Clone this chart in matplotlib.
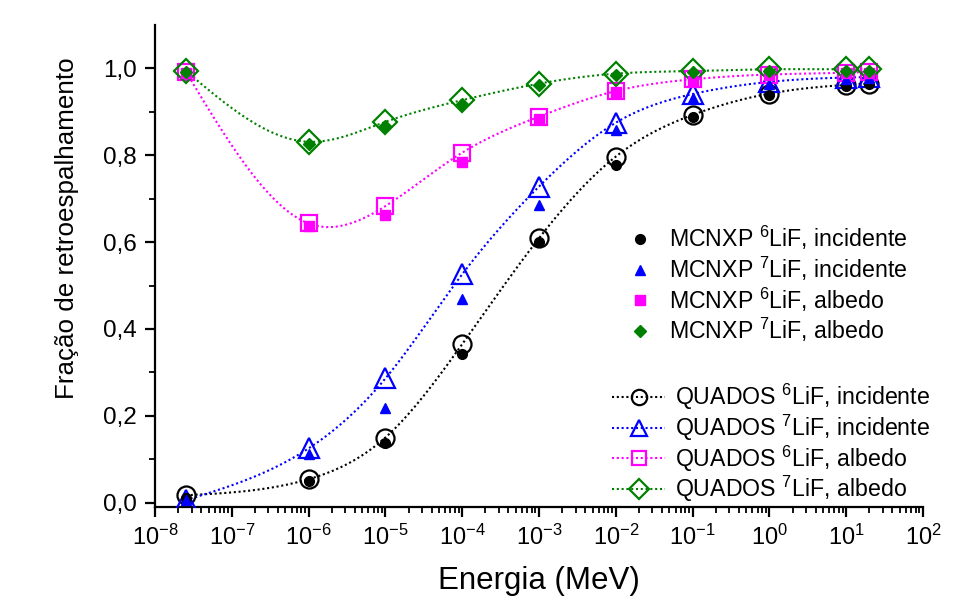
import numpy as np
import matplotlib
matplotlib.use('Agg')
import matplotlib.pyplot as plt
from matplotlib.ticker import FixedLocator, FuncFormatter, LogLocator, NullFormatter

plt.rcParams['font.family'] = ['Liberation Sans', 'DejaVu Sans']
plt.rcParams['mathtext.fontset'] = 'custom'
plt.rcParams['mathtext.rm'] = 'Liberation Sans'
plt.rcParams['mathtext.it'] = 'Liberation Sans'

# energias (MeV)
energia = [2.53e-8, 1e-6, 1e-5, 1e-4, 1e-3, 1e-2, 1e-1, 1, 10, 20]

# QUADOS
q6_inc = [0.017, 0.054, 0.150, 0.365, 0.609, 0.797, 0.893, 0.942, 0.962, 0.965]
q7_inc = [0.006, 0.125, 0.286, 0.526, 0.728, 0.875, 0.941, 0.969, 0.979, 0.980]
q6_alb = [0.992, 0.643, 0.683, 0.806, 0.889, 0.948, 0.975, 0.986, 0.990, 0.992]
q7_alb = [0.994, 0.831, 0.877, 0.927, 0.965, 0.988, 0.994, 0.998, 0.998, 0.998]

# MCNXP
m6_inc = [0.010, 0.050, 0.137, 0.342, 0.600, 0.777, 0.889, 0.939, 0.960, 0.965]
m7_inc = [0.005, 0.112, 0.217, 0.468, 0.685, 0.858, 0.933, 0.965, 0.975, 0.978]
m6_alb = [0.990, 0.637, 0.662, 0.785, 0.883, 0.945, 0.972, 0.985, 0.990, 0.990]
m7_alb = [0.992, 0.827, 0.867, 0.919, 0.962, 0.985, 0.992, 0.995, 0.995, 0.995]

cores = ['black', '#0000ff', '#ff00ff', '#008000']


def spline(x, y, n=400):
    # spline cubica natural em log10(x), so para desenhar a linha pontilhada
    x = np.log10(np.asarray(x, float))
    y = np.asarray(y, float)
    k = len(x)
    h = np.diff(x)
    A = np.zeros((k, k))
    b = np.zeros(k)
    A[0, 0] = 1
    A[-1, -1] = 1
    for i in range(1, k - 1):
        A[i, i - 1] = h[i - 1]
        A[i, i] = 2 * (h[i - 1] + h[i])
        A[i, i + 1] = h[i]
        b[i] = 3 * ((y[i + 1] - y[i]) / h[i] - (y[i] - y[i - 1]) / h[i - 1])
    c = np.linalg.solve(A, b)
    xs = np.linspace(x[0], x[-1], n)
    idx = np.clip(np.searchsorted(x, xs) - 1, 0, k - 2)
    dx = xs - x[idx]
    bb = (y[idx + 1] - y[idx]) / h[idx] - h[idx] * (2 * c[idx] + c[idx + 1]) / 3
    d = (c[idx + 1] - c[idx]) / (3 * h[idx])
    ys = y[idx] + bb * dx + c[idx] * dx ** 2 + d * dx ** 3
    return 10 ** xs, ys


fig = plt.figure(figsize=(9.74, 6.03), dpi=100)
ax = fig.add_axes([155 / 974, 96 / 603, 768 / 974, 482 / 603])

# QUADOS: marcadores abertos + linha pontilhada suave
quados = [q6_inc, q7_inc, q6_alb, q7_alb]
q_mk = ['o', '^', 's', 'D']
q_ms = [13, 14, 11.5, 12]
q_lab = [r'QUADOS $^{6}$LiF, incidente', r'QUADOS $^{7}$LiF, incidente',
         r'QUADOS $^{6}$LiF, albedo', r'QUADOS $^{7}$LiF, albedo']
hq = []
for y, c, mk, ms, lab in zip(quados, cores, q_mk, q_ms, q_lab):
    xs, ys = spline(energia, y)
    ax.plot(xs, ys, ls=(0, (1, 1.3)), lw=1.5, color=c, zorder=2)
    ax.plot(energia, y, ls='none', marker=mk, ms=ms, mfc='none', mec=c, mew=1.6, zorder=3)
    h, = ax.plot([], [], ls=(0, (1, 1.3)), lw=1.5, color=c, marker=mk, ms=ms * 0.85,
                 mfc='none', mec=c, mew=1.6, label=lab)
    hq.append(h)

# MCNXP: marcadores cheios
mcnxp = [m6_inc, m7_inc, m6_alb, m7_alb]
m_mk = ['o', '^', 's', 'D']
m_ms = [7, 7.5, 6.5, 6.5]
m_lab = [r'MCNXP $^{6}$LiF, incidente', r'MCNXP $^{7}$LiF, incidente',
         r'MCNXP $^{6}$LiF, albedo', r'MCNXP $^{7}$LiF, albedo']
hm = []
for y, c, mk, ms, lab in zip(mcnxp, cores, m_mk, m_ms, m_lab):
    h, = ax.plot(energia, y, ls='none', marker=mk, ms=ms, color=c, mec=c, zorder=4, label=lab)
    hm.append(h)

ax.set_xscale('log')
ax.set_xlim(1e-8, 1e2)
ax.set_ylim(-0.01, 1.1)
ax.xaxis.set_major_locator(LogLocator(base=10, numticks=20))
ax.xaxis.set_minor_locator(LogLocator(base=10, subs=np.arange(2, 10), numticks=20))
ax.xaxis.set_minor_formatter(NullFormatter())
ax.xaxis.set_major_formatter(FuncFormatter(lambda v, p: r'$10^{%d}$' % round(np.log10(v))))
ax.yaxis.set_major_locator(FixedLocator([0, 0.2, 0.4, 0.6, 0.8, 1.0]))
ax.yaxis.set_minor_locator(FixedLocator([0.1, 0.3, 0.5, 0.7, 0.9]))
ax.yaxis.set_major_formatter(FuncFormatter(lambda v, p: ('%.1f' % v).replace('.', ',')))

for s in ['top', 'right']:
    ax.spines[s].set_visible(False)
for s in ['left', 'bottom']:
    ax.spines[s].set_linewidth(1.6)
ax.tick_params(which='major', direction='out', length=7, width=1.6)
ax.tick_params(which='minor', direction='out', length=4, width=1.3)
ax.tick_params(axis='x', pad=6, labelsize=17)
ax.tick_params(axis='y', pad=6, labelsize=17.5)

ax.set_xlabel('Energia (MeV)', fontsize=22.5, labelpad=11)
fig.text(67 / 974, 1 - 228 / 603, 'Fração de retroespalhamento', fontsize=18.7,
         rotation=90, ha='center', va='center')

leg1 = ax.legend(handles=hm, loc='upper left', bbox_to_anchor=(628 / 974, 1 - 224 / 603),
                 bbox_transform=fig.transFigure, frameon=False, fontsize=16.7,
                 handlelength=1.0, handletextpad=0.75, labelspacing=0.11, numpoints=1,
                 borderaxespad=0, borderpad=0)
ax.add_artist(leg1)
ax.legend(handles=hq, loc='upper left', bbox_to_anchor=(612 / 974, 1 - 382 / 603),
          bbox_transform=fig.transFigure, frameon=False, fontsize=16.7,
          handlelength=2.3, handletextpad=0.4, labelspacing=0.02, numpoints=1,
          borderaxespad=0, borderpad=0)

fig.savefig('out.png', dpi=100)
